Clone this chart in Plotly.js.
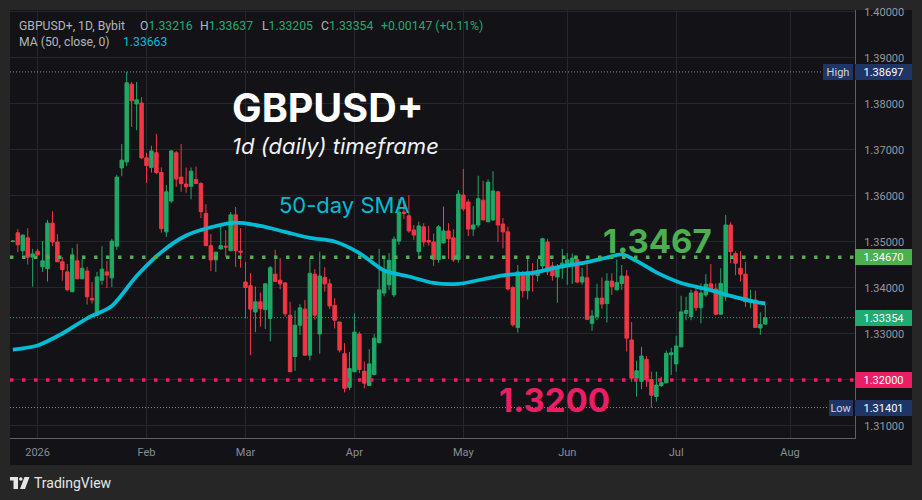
<!DOCTYPE html>
<html><head><meta charset="utf-8">
<script src="https://cdn.plot.ly/plotly-3.0.1.min.js"></script>
<style>html,body{margin:0;padding:0;background:#262626;}#chart{width:922px;height:500px;}</style>
</head><body><div id="chart"></div>
<script>
// ---- data ----
const startDate = '2025-12-25';
const openP = [1.3501,1.3520,1.3481,1.3509,1.3467,1.3480,1.3446,1.3442,1.3541,1.3500,
1.3457,1.3435,1.3392,1.3459,1.3420,1.3437,1.3377,1.3341,1.3417,1.3435,
1.3422,1.3491,1.3661,1.3674,1.3843,1.3800,1.3802,1.3683,1.3662,1.3694,
1.3651,1.3522,1.3589,1.3694,1.3641,1.3626,1.3621,1.3636,1.3627,1.3562,
1.3492,1.3461,1.3485,1.3491,1.3481,1.3559,1.3480,1.3413,1.3405,1.3348,
1.3370,1.3353,1.3334,1.3430,1.3417,1.3411,1.3341,1.3251,1.3319,1.3354,
1.3254,1.3430,1.3300,1.3423,1.3409,1.3362,1.3326,1.3257,1.3184,1.3218,
1.3300,1.3219,1.3188,1.3212,1.3281,1.3389,1.3407,1.3385,1.3502,1.3565,
1.3557,1.3526,1.3479,1.3533,1.3503,1.3500,1.3462,1.3498,1.3524,1.3509,
1.3462,1.3602,1.3587,1.3528,1.3537,1.3591,1.3544,1.3548,1.3609,1.3539,
1.3522,1.3401,1.3314,1.3432,1.3394,1.3433,1.3427,1.3448,1.3500,1.3448,
1.3424,1.3444,1.3448,1.3454,1.3462,1.3413,1.3422,1.3323,1.3338,1.3378,
1.3366,1.3415,1.3396,1.3410,1.3426,1.3287,1.3204,1.3197,1.3245,1.3201,
1.3164,1.3188,1.3194,1.3255,1.3235,1.3272,1.3345,1.3338,1.3392,1.3357,
1.3385,1.3409,1.3398,1.3343,1.3381,1.3537,1.3475,1.3443,1.3430,1.3369,
1.3374,1.3313,1.33216];
const highP = [1.3504,1.3528,1.3516,1.3530,1.3485,1.3485,1.3502,1.3548,1.3567,1.3517,
1.3467,1.3452,1.3487,1.3496,1.3463,1.3446,1.3413,1.3435,1.3491,1.3459,
1.3507,1.3646,1.3713,1.38697,1.3848,1.3848,1.3815,1.3694,1.3709,1.3735,
1.3662,1.3624,1.3700,1.3698,1.3713,1.3662,1.3662,1.3664,1.3630,1.3582,
1.3517,1.3478,1.3533,1.3526,1.3565,1.3576,1.3530,1.3457,1.3432,1.3403,
1.3390,1.3410,1.3448,1.3483,1.3465,1.3413,1.3370,1.3351,1.3365,1.3374,
1.3467,1.3441,1.3479,1.3445,1.3419,1.3378,1.3327,1.3280,1.3261,1.3345,
1.3305,1.3240,1.3267,1.3300,1.3485,1.3469,1.3476,1.3512,1.3594,1.3584,
1.3602,1.3537,1.3544,1.3541,1.3535,1.3518,1.3537,1.3577,1.3541,1.3528,
1.3613,1.3659,1.3593,1.3578,1.3644,1.3633,1.3636,1.3654,1.3611,1.3552,
1.3533,1.3404,1.3450,1.3437,1.3464,1.3454,1.3463,1.3509,1.3507,1.3457,
1.3452,1.3485,1.3476,1.3475,1.3470,1.3444,1.3461,1.3352,1.3409,1.3423,
1.3432,1.3432,1.3462,1.3450,1.3439,1.3326,1.3242,1.3272,1.3252,1.3218,
1.3218,1.3207,1.3264,1.3270,1.3296,1.3383,1.3381,1.3396,1.3402,1.3410,
1.3430,1.3452,1.3410,1.3443,1.3559,1.3543,1.3480,1.3480,1.3457,1.3396,
1.3394,1.3347,1.33637];
const lowP = [1.3499,1.3478,1.3472,1.3451,1.3403,1.3471,1.3435,1.3414,1.3491,1.3457,
1.3416,1.3393,1.3391,1.3419,1.3419,1.3364,1.3366,1.3340,1.3407,1.3400,
1.3402,1.3483,1.3643,1.3665,1.3750,1.3743,1.3680,1.3628,1.3651,1.3648,
1.3520,1.3511,1.3585,1.3620,1.3609,1.3607,1.3593,1.3626,1.3552,1.3491,
1.3437,1.3435,1.3483,1.3468,1.3480,1.3446,1.3444,1.3334,1.3254,1.3304,
1.3316,1.3311,1.3284,1.3413,1.3397,1.3338,1.3217,1.3220,1.3298,1.3253,
1.3243,1.3331,1.3257,1.3392,1.3354,1.3312,1.3260,1.3173,1.3178,1.3217,
1.3215,1.3182,1.3187,1.3210,1.3280,1.3382,1.3396,1.3380,1.3494,1.3550,
1.3520,1.3504,1.3472,1.3490,1.3492,1.3448,1.3455,1.3497,1.3463,1.3457,
1.3455,1.3567,1.3513,1.3513,1.3531,1.3547,1.3543,1.3546,1.3500,1.3486,
1.3395,1.3316,1.3303,1.3379,1.3375,1.3392,1.3414,1.3439,1.3428,1.3416,
1.3368,1.3420,1.3407,1.3409,1.3410,1.3407,1.3330,1.3307,1.3330,1.3355,
1.3325,1.3385,1.3395,1.3396,1.3262,1.3196,1.3164,1.3180,1.3185,1.31401,
1.3153,1.3185,1.3193,1.3211,1.3218,1.3271,1.3330,1.3330,1.3350,1.3323,
1.3381,1.3392,1.3341,1.3341,1.3372,1.3454,1.3428,1.3414,1.3359,1.3356,
1.3313,1.3298,1.33205];
const closeP = [1.3502,1.3494,1.3515,1.3467,1.3474,1.3472,1.3459,1.3541,1.3500,1.3457,
1.3440,1.3396,1.3472,1.3420,1.3443,1.3381,1.3374,1.3424,1.3441,1.3428,
1.3502,1.3641,1.3678,1.3846,1.3807,1.3809,1.3683,1.3666,1.3698,1.3651,
1.3529,1.3609,1.3698,1.3637,1.3627,1.3620,1.3654,1.3627,1.3566,1.3492,
1.3461,1.3478,1.3492,1.3489,1.3559,1.3481,1.3478,1.3401,1.3354,1.3370,
1.3355,1.3409,1.3444,1.3414,1.3409,1.3344,1.3218,1.3319,1.3357,1.3254,
1.3432,1.3341,1.3426,1.3409,1.3361,1.3330,1.3265,1.3182,1.3225,1.3304,
1.3223,1.3193,1.3235,1.3291,1.3396,1.3439,1.3460,1.3506,1.3565,1.3562,
1.3524,1.3515,1.3535,1.3500,1.3500,1.3462,1.3533,1.3524,1.3507,1.3461,
1.3604,1.3572,1.3528,1.3537,1.3594,1.3548,1.3630,1.3611,1.3537,1.3522,
1.3398,1.3320,1.3435,1.3394,1.3435,1.3428,1.3437,1.3507,1.3435,1.3427,
1.3446,1.3454,1.3461,1.3465,1.3413,1.3424,1.3332,1.3339,1.3378,1.3365,
1.3415,1.3403,1.3412,1.3426,1.3291,1.3204,1.3220,1.3252,1.3200,1.3167,
1.3189,1.3194,1.3258,1.3259,1.3274,1.3348,1.3351,1.3389,1.3357,1.3389,
1.3408,1.3394,1.3343,1.3410,1.3537,1.3479,1.3454,1.3430,1.3370,1.3375,
1.3314,1.33207,1.33354];
// 50-day SMA at these bar positions
const maBarIndex = [0,5,10,15,20,25,30,35,40,45,50,55,60,65,70,75,80,85,90,95,100,105,110,115,120,123,126,130,135,140,145,150,152];
const maValue = [1.3266,1.3275,1.3301,1.3334,1.3361,1.3426,1.3478,1.3514,1.3532,1.3542,1.3535,1.3522,1.3509,1.3501,1.3476,1.3438,1.3425,1.3411,1.3409,1.3419,1.3429,1.3433,1.3445,1.3454,1.3466,1.3473,1.3459,1.3434,1.3411,1.3398,1.3383,1.3370,1.33663];
const monthTickDates = ['2026-01-01','2026-02-02','2026-03-02','2026-04-01','2026-05-01','2026-06-01','2026-07-01','2026-08-03'];
const monthTickLabels = ['2026','Feb','Mar','Apr','May','Jun','Jul','Aug'];
const priceTicks = [1.31,1.32,1.33,1.34,1.35,1.36,1.37,1.38,1.39,1.40];
const levelResistance = 1.3467;
const levelSupport = 1.3200;
const lastClose = 1.33354;
const periodHigh = 1.38697;
const periodLow = 1.31401;
const legendOHLC = {O:'1.33216', H:'1.33637', L:'1.33205', C:'1.33354'};
const legendChange = '+0.00147 (+0.11%)';
const maLast = '1.33663';

// ---- dates: trading weekdays from startDate ----
function weekdays(start, n) {
  const out = [];
  const d = new Date(start + 'T00:00:00Z');
  while (out.length < n) {
    const wd = d.getUTCDay();
    if (wd !== 0 && wd !== 6) out.push(d.toISOString().slice(0, 10));
    d.setUTCDate(d.getUTCDate() + 1);
  }
  return out;
}
const dates = weekdays(startDate, closeP.length);
const maDates = maBarIndex.map(i => dates[i]);

// ---- styling ----
const UP = '#1fa866', DOWN = '#f23645', MA = '#00bcd4';
const GREENLVL = '#4caf50', PINK = '#e91e63', LASTC = '#22ab70', NAVY = '#1e3566';
const PANEL = '#131317', OUTER = '#262626', GRID = '#26262d', TXT = '#b2b5be', AX = '#9598a1';
const PL = 10, PT = 10, PW = 845, PH = 428;
const px = x => (x - PL) / PW;
const py = y => 1 - (y - PT) / PH;

const traces = [
  {type: 'candlestick', x: dates, open: openP, high: highP, low: lowP, close: closeP,
   increasing: {line: {color: UP, width: 1}, fillcolor: UP},
   decreasing: {line: {color: DOWN, width: 1}, fillcolor: DOWN},
   whiskerwidth: 0, hoverinfo: 'skip', showlegend: false},
  {type: 'scatter', mode: 'lines', x: maDates, y: maValue,
   line: {color: MA, width: 3.8, shape: 'spline', smoothing: 0.8},
   hoverinfo: 'skip', showlegend: false}
];

const dotted = (y, color) => ({type: 'line', xref: 'paper', x0: 0, x1: 1, yref: 'y', y0: y, y1: y,
  line: {color: color, width: 3.5, dash: '3.5px,8.5px'}, layer: 'above'});

const shapes = [
  {type: 'rect', xref: 'paper', yref: 'paper', x0: px(10), x1: px(912), y0: py(10), y1: py(465),
   fillcolor: PANEL, line: {width: 0}, layer: 'below'},
  {type: 'line', xref: 'paper', x0: 0, x1: px(822), yref: 'y', y0: periodHigh, y1: periodHigh,
   line: {color: '#8a8d95', width: 1, dash: '1px,2px'}},
  {type: 'line', xref: 'paper', x0: 0, x1: px(829), yref: 'y', y0: periodLow, y1: periodLow,
   line: {color: '#8a8d95', width: 1, dash: '1px,2px'}},
  {type: 'line', xref: 'paper', x0: 0, x1: 1, yref: 'y', y0: lastClose, y1: lastClose,
   line: {color: LASTC, width: 1, dash: '1px,2px'}},
  dotted(levelResistance, GREENLVL),
  dotted(levelSupport, PINK),
  // TradingView logo
  {type: 'rect', xref: 'paper', yref: 'paper', x0: px(10), x1: px(18), y0: py(477), y1: py(480.5), fillcolor: '#e6e6e6', line: {width: 0}},
  {type: 'rect', xref: 'paper', yref: 'paper', x0: px(13.5), x1: px(18), y0: py(477), y1: py(489), fillcolor: '#e6e6e6', line: {width: 0}},
  {type: 'circle', xref: 'paper', yref: 'paper', x0: px(19), x1: px(22.6), y0: py(477.2), y1: py(480.8), fillcolor: '#e6e6e6', line: {width: 0}},
  {type: 'path', xref: 'paper', yref: 'paper',
   path: `M ${px(24.5)} ${py(477)} L ${px(29.5)} ${py(477)} L ${px(25)} ${py(489)} L ${px(20)} ${py(489)} Z`,
   fillcolor: '#e6e6e6', line: {width: 0}}
];

const F = 'Roboto, "Noto Sans", sans-serif';
const FI = 'Inter, Roboto, sans-serif';
const ann = (text, x, y, size, color, family) => ({
  text: text, xref: 'paper', yref: 'paper', x: x, y: y, xanchor: 'left', yanchor: 'middle',
  showarrow: false, font: {family: family || F, size: size, color: color}});

const box = (text, yv, bg) => ({text: text, xref: 'paper', yref: 'y', x: 1, y: yv, xanchor: 'left', yanchor: 'middle',
  showarrow: false, bgcolor: bg, bordercolor: bg, borderwidth: 1, borderpad: 1, width: 53, height: 12,
  font: {family: F, size: 11, color: '#ffffff'}});

const g = s => `<span style="color:${LASTC}">${s}</span>`;
const LS = 12.2;
const annotations = [
  ann('GBPUSD+, 1D, Bybit', px(17), py(26), LS, TXT),
  ann('O' + g(legendOHLC.O), px(138), py(26), LS, TXT),
  ann('H' + g(legendOHLC.H), px(198), py(26), LS, TXT),
  ann('L' + g(legendOHLC.L), px(260), py(26), LS, TXT),
  ann('C' + g(legendOHLC.C), px(319), py(26), LS, TXT),
  ann(legendChange, px(379), py(26), LS, LASTC),
  ann('MA (50, close, 0)', px(17), py(42.5), LS, TXT),
  ann(maLast, px(121), py(42.5), LS, MA),
  ann('<b>GBPUSD+</b>', px(230), py(108), 39.5, '#ffffff', FI),
  ann('<i>1d (daily) timeframe</i>', px(230), py(146), 22, '#f2f2f2', FI),
  ann('50-day SMA', px(277), py(205), 22, MA, FI),
  ann('<b>' + levelResistance.toFixed(4) + '</b>', px(601), py(241), 33, GREENLVL, FI),
  ann('<b>' + levelSupport.toFixed(4) + '</b>', px(497), py(400), 33, PINK, FI),
  ann('TradingView', px(32), py(483), 14, '#e6e6e6', '"Liberation Sans Narrow", Roboto, sans-serif'),
  box(levelResistance.toFixed(5), levelResistance, GREENLVL),
  box(lastClose.toFixed(5), lastClose, LASTC),
  box(levelSupport.toFixed(5), levelSupport, PINK),
  box(periodHigh.toFixed(5), periodHigh, NAVY),
  box(periodLow.toFixed(5), periodLow, NAVY),
  {text: 'High', xref: 'paper', yref: 'y', x: px(853), y: periodHigh, xanchor: 'right', yanchor: 'middle', showarrow: false,
   bgcolor: NAVY, bordercolor: NAVY, borderwidth: 1, borderpad: 1, width: 26, height: 12, font: {family: F, size: 11, color: '#d1d4dc'}},
  {text: 'Low', xref: 'paper', yref: 'y', x: px(853), y: periodLow, xanchor: 'right', yanchor: 'middle', showarrow: false,
   bgcolor: NAVY, bordercolor: NAVY, borderwidth: 1, borderpad: 1, width: 20, height: 12, font: {family: F, size: 11, color: '#d1d4dc'}}
];

const layout = {
  width: 922, height: 500,
  margin: {l: PL, r: 922 - PL - PW, t: PT, b: 500 - PT - PH},
  paper_bgcolor: OUTER, plot_bgcolor: PANEL,
  showlegend: false, boxgap: 0.3, boxgroupgap: 0,
  font: {family: F, color: AX},
  xaxis: {type: 'date', range: ['2025-12-24 10:10', '2026-08-20 03:00'],
    rangebreaks: [{bounds: ['sat', 'mon']}], rangeslider: {visible: false},
    tickmode: 'array', tickvals: monthTickDates, ticktext: monthTickLabels,
    showgrid: true, gridcolor: GRID, gridwidth: 1, zeroline: false,
    showline: true, linecolor: '#5d606b', linewidth: 1, ticks: '',
    tickfont: {family: F, size: 11, color: '#8a8d95'}, ticklabelstandoff: 4, fixedrange: true},
  yaxis: {side: 'right', range: [1.30739, 1.40043], tickmode: 'array', tickvals: priceTicks,
    tickformat: '.5f', showgrid: true, gridcolor: GRID, gridwidth: 1, zeroline: false,
    showline: true, linecolor: '#5d606b', linewidth: 1, ticks: '', ticklabelstandoff: 6,
    tickfont: {family: F, size: 11, color: AX}, fixedrange: true},
  shapes: shapes, annotations: annotations
};

Plotly.newPlot('chart', traces, layout, {displayModeBar: false, staticPlot: true});
</script></body></html>
